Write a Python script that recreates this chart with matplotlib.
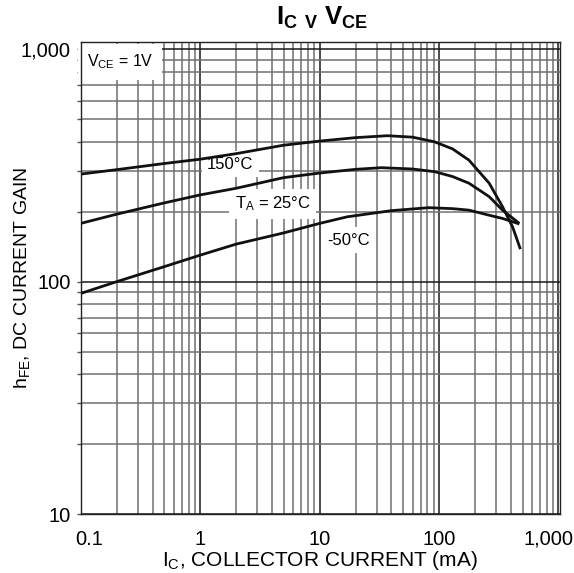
import numpy as np
import matplotlib
matplotlib.use('Agg')
import matplotlib.pyplot as plt
from matplotlib.ticker import FixedLocator, LogLocator, NullFormatter
from matplotlib.transforms import ScaledTranslation

plt.rcParams['font.family'] = ['Liberation Sans', 'DejaVu Sans']
plt.rcParams['mathtext.fontset'] = 'custom'
plt.rcParams['mathtext.rm'] = 'Liberation Sans'
plt.rcParams['mathtext.it'] = 'Liberation Sans'
plt.rcParams['mathtext.bf'] = 'Liberation Sans:bold'

# collector current (mA) and DC current gain
ic_150 = [0.1, 0.2, 0.5, 1, 2, 5, 10, 20, 37, 60, 92, 130, 178, 263, 340, 413, 480]
hfe_150 = [290, 303, 322, 336, 355, 386, 402, 416, 424, 418, 399, 372, 333, 265, 210, 172, 138]

ic_25 = [0.1, 0.2, 0.5, 1, 2, 5, 10, 20, 33, 60, 92, 130, 178, 263, 340, 470]
hfe_25 = [178, 195, 218, 236, 252, 280, 293, 304, 309, 305, 297, 283, 265, 232, 203, 178]

ic_m50 = [0.1, 0.2, 0.5, 1, 2, 5, 10, 17, 40, 82, 130, 178, 263, 340, 470]
hfe_m50 = [89, 100, 116, 130, 145, 162, 178, 190, 202, 208, 206, 203, 193, 187, 177]

x_ticks = [0.1, 1, 10, 100, 1000]
x_labels = ['0.1', '1', '10', '100', '1,000']
y_ticks = [10, 100, 1000]
y_labels = ['10', '100', '1,000']

fig = plt.figure(figsize=(5.74, 5.73), dpi=100)
ax = fig.add_axes([0.1406, 0.1024, 0.835, 0.8248])

for xs, ys in [(ic_150, hfe_150), (ic_25, hfe_25), (ic_m50, hfe_m50)]:
    ax.plot(xs, ys, color='#111111', lw=2.0, solid_capstyle='butt', zorder=3)

ax.set_xscale('log')
ax.set_yscale('log')
ax.set_xlim(0.1, 1030)
ax.set_ylim(10, 1075)

ax.xaxis.set_major_locator(FixedLocator(x_ticks))
ax.set_xticklabels(x_labels)
ax.yaxis.set_major_locator(FixedLocator(y_ticks))
ax.set_yticklabels(y_labels)
ax.xaxis.set_minor_locator(LogLocator(base=10, subs=np.arange(2, 10)))
ax.yaxis.set_minor_locator(LogLocator(base=10, subs=np.arange(2, 10)))
ax.xaxis.set_minor_formatter(NullFormatter())
ax.yaxis.set_minor_formatter(NullFormatter())

ax.grid(which='major', color='#1a1a1a', lw=1.1, zorder=1)
ax.grid(which='minor', color='#707070', lw=1.1, zorder=1)
ax.set_axisbelow(True)

ax.tick_params(axis='x', which='both', length=0, pad=11, labelsize=14.5)
ax.tick_params(axis='y', which='both', length=3, width=1, color='#555555', pad=4, labelsize=14.5)
for s in ax.spines.values():
    s.set_color('#222222')
    s.set_linewidth(1.0)

# end labels sit inward of their ticks, like the datasheet
xt = ax.get_xticklabels()
xt[0].set_transform(xt[0].get_transform() + ScaledTranslation(8 / 100, 0, fig.dpi_scale_trans))
xt[-1].set_transform(xt[-1].get_transform() + ScaledTranslation(-9.5 / 100, 0, fig.dpi_scale_trans))

ax.set_xlabel('I$_\\mathregular{C}$, COLLECTOR CURRENT (mA)', fontsize=15)
ax.set_ylabel('h$_\\mathregular{FE}$, DC CURRENT GAIN', fontsize=14)
ax.xaxis.set_label_coords(0.5, -0.074)
ax.yaxis.set_label_coords(-0.1225, 0.5)
ax.yaxis.label.set_va('center')

fig.text(0.561, 0.968, r'$\mathbf{I_C}$ $_{\mathbf{V}}$ $\mathbf{V_{CE}}$', fontsize=18.5,
         ha='center', va='center')

box = dict(facecolor='white', edgecolor='none', pad=4)
ax.text(1.79, 320, '150°C', fontsize=12, ha='center', va='center', bbox=box, zorder=2)
ax.text(4.05, 216, 'T$_\\mathregular{A}$ = 25°C', fontsize=12, ha='center', va='center', bbox=box, zorder=2)
ax.text(17.4, 151, '-50°C', fontsize=12, ha='center', va='center', bbox=box, zorder=2)
ax.text(0.082, 0.957, 'V$_\\mathregular{CE}$ = 1V', fontsize=11.5, ha='center', va='center',
        transform=ax.transAxes, bbox=dict(facecolor='white', edgecolor='none', pad=6), zorder=2)

fig.savefig('out.png', dpi=100)
